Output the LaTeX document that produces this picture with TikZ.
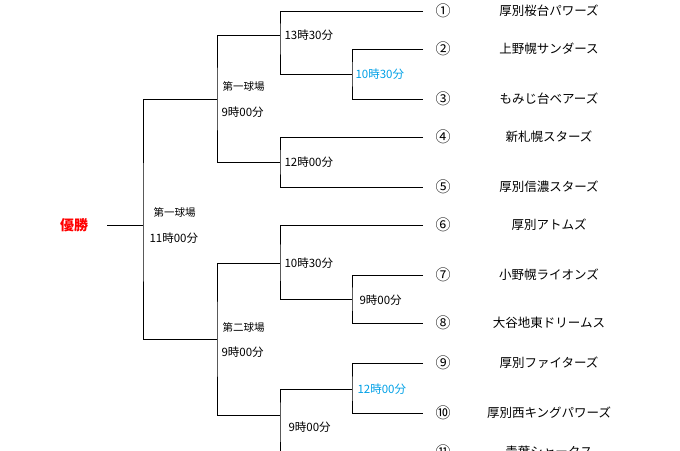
\documentclass[tikz,border=0pt]{standalone}
\usepackage{fontspec}
\setmainfont{Noto Sans CJK JP}
\begin{document}
\begin{tikzpicture}[x=1pt,y=-1pt,line width=1pt,
  team/.style={font=\fontsize{12.5}{14}\selectfont,inner sep=0pt},
  time/.style={font=\fontsize{11.5}{13}\selectfont,anchor=west,inner sep=0pt},
  blue time/.style={time,text={rgb,255:red,0;green,160;blue,230}}]
    \clip (0,0) rectangle (680,450);
    \useasboundingbox (0,0) rectangle (680,450);

    % team ends
    \coordinate (t1) at (423,11);
    \coordinate (t2) at (423,49);
    \coordinate (t3) at (423,99);
    \coordinate (t4) at (423,137);
    \coordinate (t5) at (423,187);
    \coordinate (t6) at (423,225);
    \coordinate (t7) at (423,275);
    \coordinate (t8) at (423,323);
    \coordinate (t9) at (423,363);
    \coordinate (t10) at (423,413);

    % match points
    \coordinate (m23) at (352,74);
    \coordinate (m123) at (280,35);
    \coordinate (m45) at (280,162);
    \coordinate (m78) at (352,299);
    \coordinate (m678) at (280,263);
    \coordinate (m910) at (352,389);
    \coordinate (m9x) at (280,415);
    \coordinate (low) at (280,470);
    \coordinate (s1) at (217,99);
    \coordinate (s2) at (217,339);
    \coordinate (fin) at (143,225);
    \coordinate (win) at (107,225);

    \draw (t2) -| (m23) |- (t3);
    \draw (t1) -| (m123) |- (m23);
    \draw (t4) -| (m45) |- (t5);
    \draw (m123) -| (s1) |- (m45);
    \draw (t7) -| (m78) |- (t8);
    \draw (t6) -| (m678) |- (m78);
    \draw (t9) -| (m910) |- (t10);
    \draw (m910) -| (m9x) -- (low);
    \draw (m678) -| (s2) |- (m9x);
    \draw (s1) -| (fin) |- (s2);
    \draw (win) -- (fin);

    \node[font=\fontsize{14}{16}\selectfont\bfseries,text=red] (champ) at (74,225) {優勝};

    \node[time] (l1) at (284,35) {13時30分};
    \node[blue time] (l2) at (355,74) {10時30分};
    \node[time] (l3) at (284,162) {12時00分};
    \node[time,font=\fontsize{10.5}{12}\selectfont] (l4) at (222,87) {第一球場};
    \node[time] (l5) at (221,112) {9時00分};
    \node[time,font=\fontsize{10.5}{12}\selectfont] (l6) at (153,213) {第一球場};
    \node[time] (l7) at (149,238) {11時00分};
    \node[time] (l8) at (284,263) {10時30分};
    \node[time] (l9) at (359,300) {9時00分};
    \node[time,font=\fontsize{10.5}{12}\selectfont] (l10) at (222,327) {第二球場};
    \node[time] (l11) at (221,352) {9時00分};
    \node[blue time] (l12) at (357,389) {12時00分};
    \node[time] (l13) at (288,427) {9時00分};

    \foreach \n/\y/\name in {①/11/厚別桜台パワーズ,②/49/上野幌サンダース,③/99/もみじ台ベアーズ,
        ④/137/新札幌スターズ,⑤/187/厚別信濃スターズ,⑥/225/厚別アトムズ,
        ⑦/275/小野幌ライオンズ,⑧/323/大谷地東ドリームス,⑨/363/厚別ファイターズ,
        ⑩/413/厚別西キングパワーズ,⑪/452/青葉シャークス}{
      \node[team,font=\fontsize{15}{16}\selectfont] (n\y) at (443,\y) {\n};
      \node[team] (w\y) at (549,\y) {\name};
    }
\end{tikzpicture}
\end{document}
